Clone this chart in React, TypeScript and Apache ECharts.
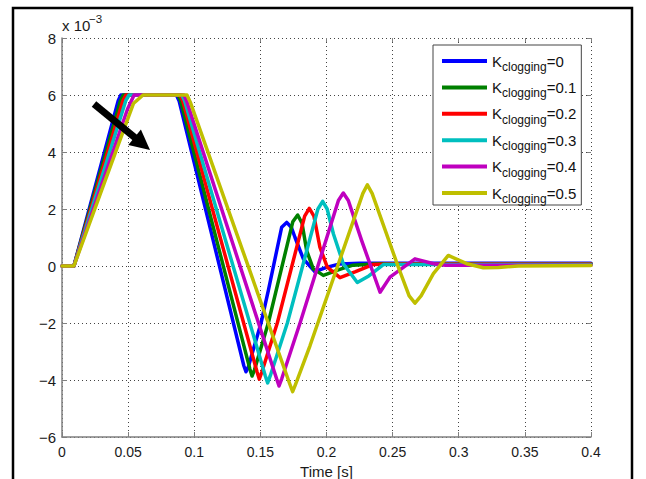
import React, { useEffect, useRef } from 'react';
import * as echarts from 'echarts';

const FONT = '"Liberation Sans", Arial, Helvetica, sans-serif';

// legend values of K_clogging
const kValues = ['0', '0.1', '0.2', '0.3', '0.4', '0.5'];
const lineColors = ['#0000ff', '#008000', '#ff0000', '#00bfbf', '#bf00bf', '#bfbf00'];

// axis ranges (y in units of 1e-3)
const xRange = [0, 0.4, 0.05];
const yRange = [-6, 8, 2];

// [time s, value x1e-3]
const k0 = [[0, 0], [0.009, 0], [0.0425, 5.8], [0.0445, 6], [0.0865, 6], [0.0885, 5.8], [0.1375, -3.5], [0.1391, -3.71], [0.1408, -3.55], [0.1505, -2.0], [0.156, -0.86], [0.1661, 1.36], [0.1699, 1.53], [0.1735, 1.35], [0.1762, 1.0], [0.1825, 0.25], [0.1913, -0.2], [0.2, -0.05], [0.21, 0.07], [0.225, 0.1], [0.4, 0.1]];
const k01 = [[0, 0], [0.009, 0], [0.0442, 5.8], [0.0463, 6], [0.0877, 6], [0.0897, 5.8], [0.1421, -3.62], [0.1437, -3.86], [0.1455, -3.65], [0.156, -2], [0.1745, 1.55], [0.1782, 1.79], [0.1815, 1.5], [0.185, 0.54], [0.19, -0.1], [0.1976, -0.33], [0.21, -0.12], [0.22, 0.03], [0.24, 0.08], [0.4, 0.08]];
const k02 = [[0, 0], [0.009, 0], [0.046, 5.8], [0.0483, 6], [0.0892, 6], [0.0913, 5.8], [0.1475, -3.72], [0.1492, -3.97], [0.1511, -3.72], [0.1628, -2], [0.1835, 1.75], [0.187, 2.02], [0.1905, 1.75], [0.195, 0.66], [0.2006, -0.04], [0.2102, -0.41], [0.222, -0.2], [0.235, 0.05], [0.25, 0.07], [0.4, 0.07]];
const k03 = [[0, 0], [0.009, 0], [0.0482, 5.8], [0.0507, 6], [0.0905, 6], [0.0927, 5.8], [0.1537, -3.85], [0.1555, -4.1], [0.1575, -3.85], [0.1704, -2], [0.1935, 2.0], [0.1971, 2.27], [0.2005, 2.0], [0.2052, 1.13], [0.2127, 0.08], [0.2233, -0.58], [0.232, -0.35], [0.243, 0.05], [0.26, 0.05], [0.4, 0.05]];
const k04 = [[0, 0], [0.009, 0], [0.0495, 5.5], [0.0545, 6], [0.0922, 6], [0.0945, 5.75], [0.1622, -3.95], [0.1641, -4.21], [0.1662, -3.95], [0.18, -2], [0.209, 2.3], [0.2127, 2.56], [0.2165, 2.3], [0.2266, 0.89], [0.2405, -0.92], [0.248, -0.39], [0.2669, 0.25], [0.281, 0.08], [0.29, 0.03], [0.4, 0.03]];
const k05 = [[0, 0], [0.009, 0], [0.05, 5.2], [0.054, 5.7], [0.0613, 6], [0.0945, 6], [0.097, 5.75], [0.1723, -4.15], [0.1744, -4.41], [0.1766, -4.15], [0.1875, -2.8], [0.2275, 2.55], [0.2309, 2.85], [0.2345, 2.55], [0.254, 0], [0.2625, -1.05], [0.2669, -1.3], [0.2715, -1.05], [0.2808, -0.27], [0.2921, 0.37], [0.306, 0.08], [0.3186, -0.06], [0.33, -0.05], [0.345, 0], [0.4, 0.02]];

const seriesData = [k0, k01, k02, k03, k04, k05];

export default function App() {
  const ref = useRef<HTMLDivElement>(null);
  useEffect(() => {
    if (!ref.current) return;
    const chart = echarts.init(ref.current, null, { renderer: 'svg' });
    const labelStyle = { fontFamily: FONT, fontSize: 14, color: '#1a1a1a' };
    const gridLine = { show: true, lineStyle: { color: '#444', type: [1, 3], width: 1 } };
    const axisGray = '#808080';
    const option: any = {
      animation: false,
      backgroundColor: '#ffffff',
      grid: { left: 62, right: 55, top: 38, bottom: 42, outerBoundsMode: 'none', containLabel: false },
      xAxis: [
        {
          type: 'value', min: xRange[0], max: xRange[1], interval: xRange[2],
          name: 'Time [s]', nameLocation: 'middle', nameGap: 24,
          nameTextStyle: { ...labelStyle, fontSize: 15 },
          axisLine: { show: true, onZero: false, lineStyle: { color: axisGray, width: 1.5 } },
          axisTick: { show: true, inside: true, length: 5, lineStyle: { color: axisGray } },
          axisLabel: { ...labelStyle, margin: 8 },
          splitLine: gridLine,
        },
        {
          type: 'value', position: 'top', min: xRange[0], max: xRange[1], interval: xRange[2],
          axisLine: { show: false, onZero: false },
          axisTick: { show: true, inside: true, length: 4, lineStyle: { color: axisGray } },
          axisLabel: { show: false }, splitLine: { show: false },
        },
      ],
      yAxis: [
        {
          type: 'value', min: yRange[0], max: yRange[1], interval: yRange[2],
          axisLine: { show: true, onZero: false, lineStyle: { color: axisGray, width: 1.5 } },
          axisTick: { show: true, inside: true, length: 5, lineStyle: { color: axisGray } },
          axisLabel: { ...labelStyle, fontSize: 15, margin: 6, formatter: (v: number) => (v < 0 ? '\u2212' + Math.abs(v) : String(v)) },
          splitLine: gridLine,
        },
        {
          type: 'value', position: 'right', min: yRange[0], max: yRange[1], interval: yRange[2],
          axisLine: { show: false, onZero: false },
          axisTick: { show: true, inside: true, length: 4, lineStyle: { color: axisGray } },
          axisLabel: { show: false }, splitLine: { show: false },
        },
      ],
      legend: {
        orient: 'vertical', left: 433, top: 45,
        itemWidth: 45, itemHeight: 4, itemGap: 2.4,
        icon: 'rect',
        padding: [4, 5, 0, 9],
        borderColor: '#444', borderWidth: 1, backgroundColor: '#ffffff',
        data: kValues,
        formatter: (name: string) => `{k|K}{s|clogging}{e|=${name}}`,
        textStyle: {
          fontFamily: FONT, color: '#111',
          rich: {
            k: { fontFamily: FONT, fontSize: 15, color: '#111', lineHeight: 16 },
            s: { fontFamily: FONT, fontSize: 12, color: '#111', lineHeight: 12, padding: [12, 0, 0, 0] },
            e: { fontFamily: FONT, fontSize: 15, color: '#111', lineHeight: 16 },
          },
        },
      },
      series: seriesData.map((d, i) => ({
        type: 'line',
        name: kValues[i],
        data: d,
        xAxisIndex: 0, yAxisIndex: 0,
        symbol: 'none', showSymbol: false,
        smooth: false,
        silent: true,
        lineStyle: { color: lineColors[i], width: 3.5, cap: 'round', join: 'round' },
        itemStyle: { color: lineColors[i] },
        z: 2 + i,
      })),
      graphic: [
        { type: 'rect', silent: true, z: 100, shape: { x: 13, y: 8, width: 619, height: 520 }, style: { fill: 'none', stroke: '#000', lineWidth: 2.5 } },
        { type: 'line', silent: true, z: 100, shape: { x1: 94, y1: 104, x2: 136, y2: 138.5 }, style: { stroke: '#000', lineWidth: 7 } },
        { type: 'polygon', silent: true, z: 100, shape: { points: [[150, 150], [128.3, 145], [140.9, 129.6]] }, style: { fill: '#000' } },
        { type: 'text', silent: true, z: 100, x: 62, y: 33, style: { text: 'x 10', fontFamily: FONT, fontSize: 15, fill: '#1a1a1a', verticalAlign: 'bottom' } },
        { type: 'text', silent: true, z: 100, x: 89, y: 25, style: { text: '\u22123', fontFamily: FONT, fontSize: 11.5, fill: '#1a1a1a', verticalAlign: 'bottom' } },
      ],
    };
    chart.setOption(option);
    return () => chart.dispose();
  }, []);
  return <div ref={ref} style={{ position: 'fixed', left: 0, top: 0, width: 646, height: 479, background: '#fff' }} />;
}
